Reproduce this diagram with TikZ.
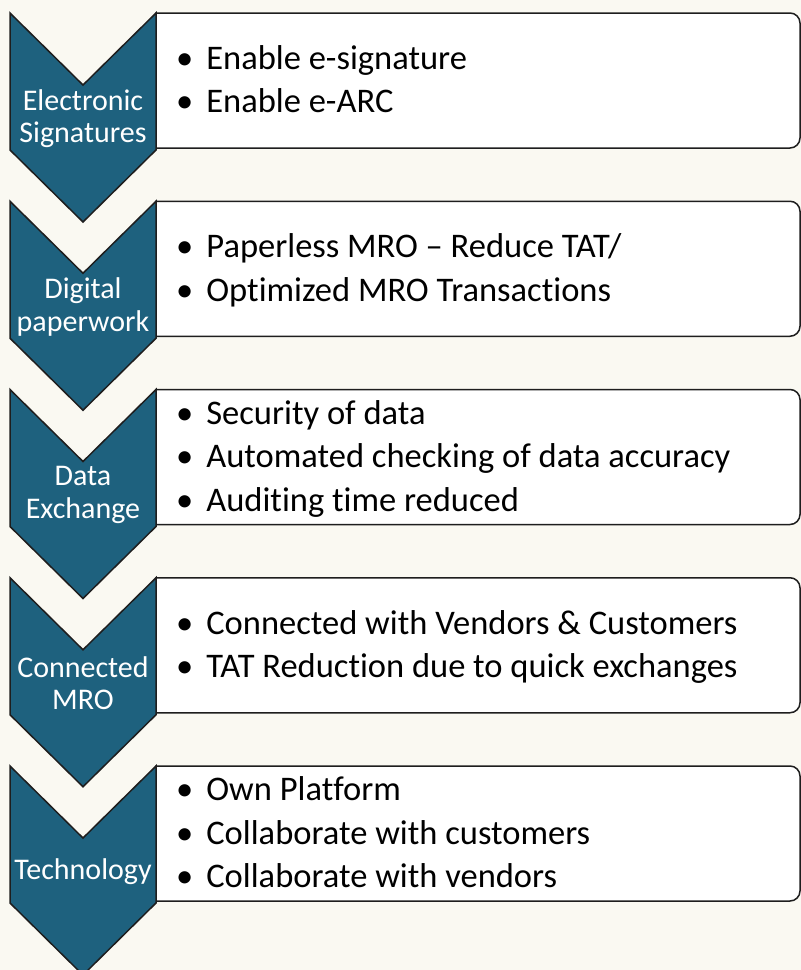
\documentclass[tikz,border=0pt]{standalone}
\usepackage{fontspec}
\setmainfont{Carlito}[Ligatures=NoCommon]
\usepackage{array}
\definecolor{pagebg}{HTML}{FAF9F2}
\definecolor{chevfill}{HTML}{1E617E}
\definecolor{edge}{HTML}{1E1E1E}
\tikzset{
  chevron/.style={fill=chevfill, draw=edge, line width=1.5pt, line join=miter},
  infobox/.style={fill=white, draw=edge, line width=1.5pt},
  chevlabel/.style={text=white, align=center, inner sep=0pt,
    font=\fontsize{30}{32.5}\selectfont},
  boxtext/.style={anchor=west, inner sep=0pt, text=black,
    font=\fontsize{34.5}{43.5}\selectfont},
}
\newcommand{\bulletrows}[1]{%
  \renewcommand{\arraystretch}{1}%
  \begin{tabular}{@{}l@{\hspace{13pt}}l@{}}#1\end{tabular}}
\begin{document}
\begin{tikzpicture}[x=1pt, y=-1pt]
  \fill[pagebg] (0,0) rectangle (801,970);
  \useasboundingbox (0,0) rectangle (801,970);
  \begin{scope}
    \clip (0,0) rectangle (801,970);
    \foreach \i/\lab/\items in {
      0/{Electronic\\Signatures}/{\textbullet & Enable e-signature\\ \textbullet & Enable e-ARC},
      1/{Digital\\paperwork}/{\textbullet & Paperless MRO – Reduce TAT/\\ \textbullet & Optimized MRO Transactions},
      2/{Data\\Exchange}/{\textbullet & Security of data\\ \textbullet & Automated checking of data accuracy\\ \textbullet & Auditing time reduced},
      3/{Connected\\MRO}/{\textbullet & Connected with Vendors \& Customers\\ \textbullet & TAT Reduction due to quick exchanges},
      4/{Technology}/{\textbullet & Own Platform\\ \textbullet & Collaborate with customers\\ \textbullet & Collaborate with vendors}} {
      \pgfmathsetmacro{\T}{13+188.25*\i}
      % text panel: square on the left, rounded on the right
      \draw[infobox] (156,\T+135) -- (156,\T) [rounded corners=10pt] -- (800,\T)
        -- (800,\T+135) [sharp corners] -- (156,\T+135) -- cycle;
      % chevron step marker
      \draw[chevron] (10,\T) -- (83,\T+72) -- (156,\T) -- (156,\T+137)
        -- (83,\T+209) -- (10,\T+137) -- cycle;
      \node[chevlabel] (label\i) at (83,\T+105.5) {\lab};
      \node[boxtext] (items\i) at (176,\T+69.5) {\bulletrows{\items}};
    }
  \end{scope}
\end{tikzpicture}
\end{document}
